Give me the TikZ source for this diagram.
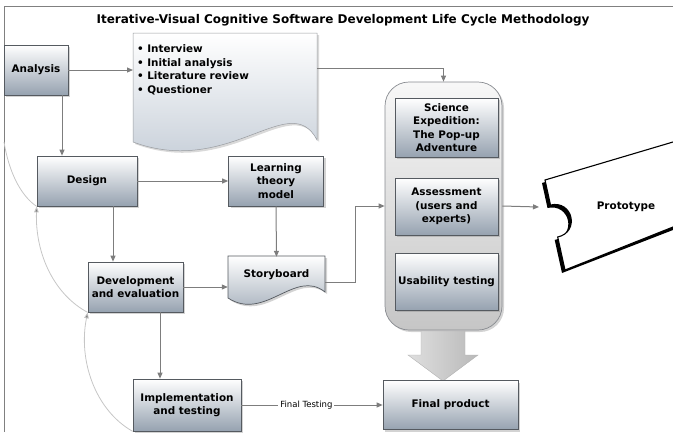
\documentclass[tikz,border=0pt]{standalone}
\usepackage{fontspec}
\setmainfont{DejaVu Sans}
\usetikzlibrary{arrows.meta,shadows}

\definecolor{boxlow}{RGB}{150,162,176}
\definecolor{doclow}{RGB}{192,201,212}
\definecolor{rim}{RGB}{85,90,96}
\definecolor{wire}{RGB}{125,125,125}

\begin{document}
\begin{tikzpicture}[x=1pt,y=-1pt,
    box/.style={draw=rim,line width=0.7pt,top color=white,bottom color=boxlow,
      drop shadow={shadow xshift=2pt,shadow yshift=-2pt,opacity=0.35},
      font=\fontsize{10.4}{13.5}\selectfont\bfseries,align=center,inner sep=1pt},
    label/.style={font=\fontsize{10.4}{13.5}\selectfont\bfseries,align=center},
    link/.style={draw=wire,line width=1pt,-{Triangle[length=6pt,width=5pt]}},
    backloop/.style={draw=gray!45,line width=0.8pt,-{Triangle[length=6pt,width=4.5pt,fill=gray]}}]
  \useasboundingbox (0,0) rectangle (673,432);
  \draw[gray,line width=1pt] (4,432) -- (4,6) -- (673,6);
  \node[font=\fontsize{12}{14}\selectfont\bfseries] (title) at (343,20)
    {Iterative-Visual Cognitive Software Development Life Cycle Methodology};

  % document shapes
  \shade[top color=white,bottom color=doclow,draw=rim!60,line width=0.5pt,
    drop shadow={shadow xshift=2pt,shadow yshift=-2pt,opacity=0.3}]
    (133,33) -- (317,33) -- (317,140) .. controls (290,88) and (230,178) .. (133,142) -- cycle;
  \shade[top color=white,bottom color=boxlow,draw=rim,line width=0.7pt,
    drop shadow={shadow xshift=2pt,shadow yshift=-2pt,opacity=0.35}]
    (228,256) -- (325,256) -- (325,292) .. controls (295,268) and (265,322) .. (228,298) -- cycle;

  % container
  \node[draw=rim!70,line width=0.7pt,rounded corners=24pt,top color=gray!6,bottom color=gray!45,
    drop shadow={shadow xshift=2pt,shadow yshift=-2pt,opacity=0.35},
    minimum width=117pt,minimum height=248pt] (cont) at (443.5,206) {};
  \shade[left color=gray!25,right color=gray!55,draw=gray!60]
    (421,331) -- (465,331) -- (465,355) -- (478,355) -- (443,381) -- (408,355) -- (421,355) -- cycle;

  % prototype
  \fill[black] (542,183) -- (673,144) -- (673,230) -- (562,273) -- (554.7,240)
    .. controls (577.1,235) and (569.9,203) .. (547.5,208) -- cycle;
  \fill[white] (545,180) -- (673,142) -- (673,227) -- (565,270) -- (557.7,237)
    .. controls (580.1,232) and (572.9,200) .. (550.5,205) -- cycle;
  \draw[black,line width=1.1pt] (673,142) -- (545,180) -- (550.5,205)
    .. controls (572.9,200) and (580.1,232) .. (557.7,237) -- (565,270) -- (673,227);
  \node[label] (proto) at (626,207) {Prototype};
  \coordinate (protoin) at (539,207);

  \node[box,minimum width=64pt,minimum height=50pt] (analysis) at (36,70) {Analysis};
  \node[label,anchor=west,align=left,text width=176pt,inner xsep=4pt] (notes) at (133,70)
    {\textbullet\ Interview\\ \textbullet\ Initial analysis\\ \textbullet\ Literature review\\ \textbullet\ Questioner};
  \node[box,minimum width=100pt,minimum height=50pt] (design) at (87,181) {Design};
  \node[box,minimum width=95pt,minimum height=50pt] (learn) at (276,181) {Learning\\theory\\model};
  \node[label,minimum width=97pt,minimum height=36pt] (story) at (276.5,275) {Storyboard};
  \node[box,minimum width=95pt,minimum height=50pt] (dev) at (135.5,287) {Development\\and evaluation};
  \node[box,minimum width=108pt,minimum height=52pt] (impl) at (187,405) {Implementation\\and testing};
  \node[box,minimum width=135pt,minimum height=49pt] (final) at (450.5,405) {Final product};

  \node[box,minimum width=103pt,minimum height=59pt] (sci) at (446.5,127.5)
    {Science\\Expedition:\\The Pop-up\\Adventure};
  \node[box,minimum width=103pt,minimum height=57pt] (assess) at (446.5,206.5)
    {Assessment\\(users and\\experts)};
  \node[box,minimum width=103pt,minimum height=57pt] (usab) at (446.5,281.5) {Usability testing};

  % connectors
  \coordinate (a1) at ([xshift=26pt]analysis.south);
  \coordinate (d1) at ([xshift=26pt]design.south);
  \coordinate (d2) at ([xshift=24.5pt]dev.south);
  \coordinate (loopend) at (4,142);
  \draw[link] (analysis.east) -- (notes.west);
  \draw[link] ([yshift=2pt]notes.east) -| (cont.north);
  \draw[link] (a1) -- (a1 |- design.north);
  \draw[link] (design.east) -- (learn.west);
  \draw[link] (d1) -- (d1 |- dev.north);
  \draw[link] (learn.south) -- (story.north);
  \draw[link] (dev.east) -- (dev.east -| story.west);
  \draw[link] (d2) -- (d2 |- impl.north);
  \draw[link] ([yshift=-7pt]story.east) -- +(30,0) |- (cont.west);
  \draw[link] (cont.east) -- (protoin);
  \draw[link] (impl.east) -- node[pos=0.46,fill=white,inner xsep=2pt,font=\fontsize{8.5}{10}\selectfont] {Final Testing} (final.west);

  \draw[backloop] (dev.south west) .. controls (55,295) and (35,255) .. (design.south west);
  \draw[backloop] (impl.south west) .. controls (95,410) and (78,360) .. (dev.south west);
  \draw[draw=gray!45,line width=0.8pt] (design.south west) .. controls (24,198) and (10,178) .. (loopend);
\end{tikzpicture}
\end{document}
